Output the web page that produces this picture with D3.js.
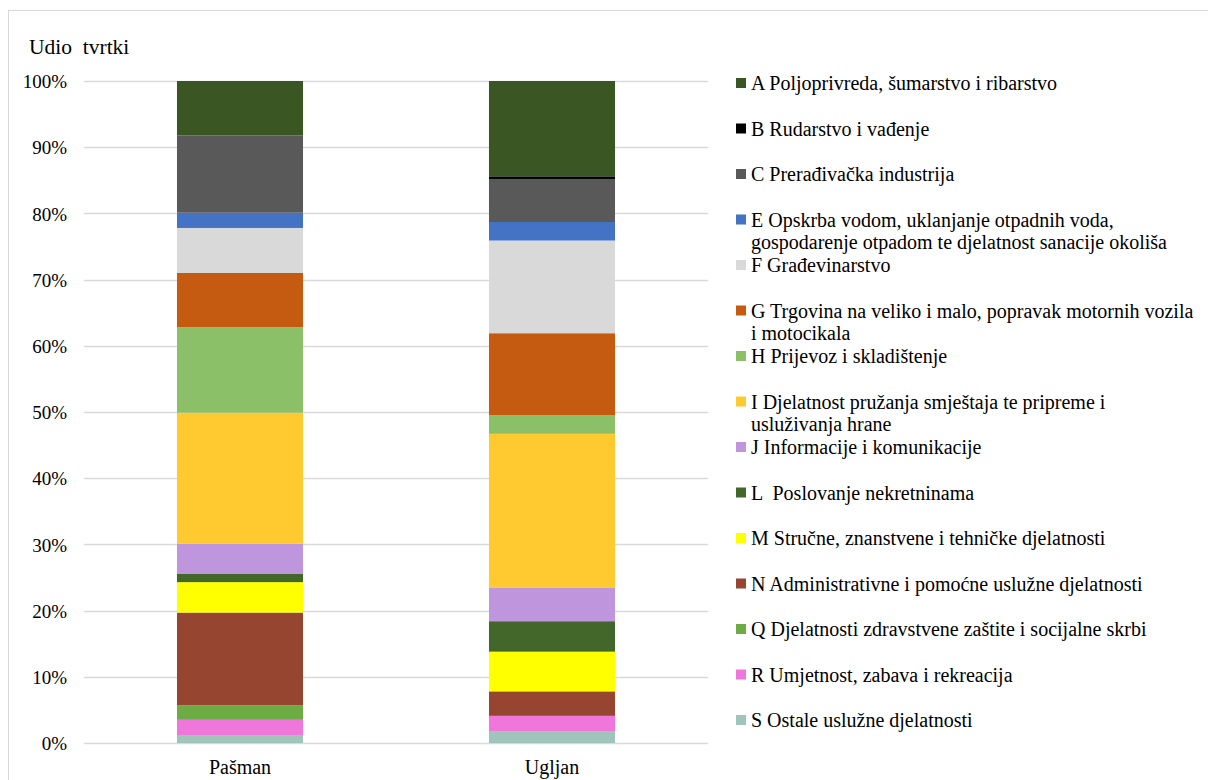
<!DOCTYPE html>
<html>
<head>
<meta charset="utf-8">
<script src="https://cdn.jsdelivr.net/npm/d3@7"></script>
<style>
  html, body { margin: 0; padding: 0; background: #fff; }
  svg { display: block; }
  svg text { font-family: "Liberation Serif", "Times New Roman", Tinos, "DejaVu Serif", serif; }
</style>
</head>
<body>
<svg id="chart" width="1208" height="780"></svg>
<script>
// ---- data ----
const categories = ["Pašman", "Ugljan"];
const sectorCodes = ["A", "B", "C", "E", "F", "G", "H", "I", "J", "L", "M", "N", "Q", "R", "S"];
const sectorLabels = [
  "A Poljoprivreda, šumarstvo i ribarstvo",
  "B Rudarstvo i vađenje",
  "C Prerađivačka industrija",
  "E Opskrba vodom, uklanjanje otpadnih voda,\ngospodarenje otpadom te djelatnost sanacije okoliša",
  "F Građevinarstvo",
  "G Trgovina na veliko i malo, popravak motornih vozila\ni motocikala",
  "H Prijevoz i skladištenje",
  "I Djelatnost pružanja smještaja te pripreme i\nusluživanja hrane",
  "J Informacije i komunikacije",
  "L  Poslovanje nekretninama",
  "M Stručne, znanstvene i tehničke djelatnosti",
  "N Administrativne i pomoćne uslužne djelatnosti",
  "Q Djelatnosti zdravstvene zaštite i socijalne skrbi",
  "R Umjetnost, zabava i rekreacija",
  "S Ostale uslužne djelatnosti"
];
// shares (%) per sector, in sectorCodes order
const pasmanValues = [8.2, 0, 11.7, 2.3, 6.8, 8.2, 12.9, 19.8, 4.5, 1.3, 4.6, 14.0, 2.2, 2.4, 1.1];
const ugljanValues = [14.4, 0.4, 6.5, 2.8, 14.0, 12.4, 2.8, 23.2, 5.1, 4.6, 6.0, 3.7, 0, 2.3, 1.8];
const yTickValues = [0, 10, 20, 30, 40, 50, 60, 70, 80, 90, 100];
const yAxisTitle = "Udio  tvrtki";

// ---- styles ----
const sectorColors = ["#3A5723", "#000000", "#595959", "#4472C4", "#D9D9D9", "#C55A11", "#8CC068",
                      "#FFCA30", "#BF95DE", "#43672B", "#FFFF00", "#964530", "#6DAB45", "#EF76DA", "#A0C3BA"];

const svg = d3.select("#chart");
const plotLeft = 84, plotRight = 708, plotTop = 81, plotBottom = 743;

// outer chart border
svg.append("rect").attr("x", 8.5).attr("y", 10.5).attr("width", 1220).attr("height", 800)
  .attr("fill", "none").attr("stroke", "#D9D9D9").attr("stroke-width", 1);

const rows = categories.map((c, i) => {
  const vals = i === 0 ? pasmanValues : ugljanValues;
  const o = { cat: c };
  sectorCodes.forEach((k, j) => o[k] = vals[j]);
  return o;
});

const x = d3.scaleBand().domain(categories).range([plotLeft, plotRight]).paddingInner(0.596).paddingOuter(0.298);
const y = d3.scaleLinear().domain([0, 100]).range([plotBottom, plotTop]);
const color = d3.scaleOrdinal().domain(sectorCodes).range(sectorColors);

// gridlines
svg.append("g").selectAll("line").data(yTickValues).join("line")
  .attr("x1", plotLeft).attr("x2", plotRight)
  .attr("y1", d => Math.round(y(d)) + 0.5).attr("y2", d => Math.round(y(d)) + 0.5)
  .attr("stroke", "#D9D9D9").attr("stroke-width", 1.3);

// stacks: S at bottom, A on top
const stackKeys = sectorCodes.slice().reverse();
const series = d3.stack().keys(stackKeys)(rows);

svg.append("g").selectAll("g").data(series).join("g")
  .attr("fill", d => color(d.key))
  .selectAll("rect").data(d => d).join("rect")
  .attr("x", d => x(d.data.cat))
  .attr("width", x.bandwidth())
  .attr("y", d => y(d[1]))
  .attr("height", d => Math.max(0, y(d[0]) - y(d[1])));

// y axis labels
const yAxis = d3.axisLeft(y).tickValues(yTickValues).tickFormat(d => d + "%").tickSize(0).tickPadding(0);
const yg = svg.append("g").attr("transform", `translate(67,0)`).call(yAxis);
yg.select(".domain").remove();
yg.attr("font-family", null);
yg.selectAll("text").attr("font-size", 19).attr("fill", "#000").attr("dy", "0.35em");

// x axis labels
const xAxis = d3.axisBottom(x).tickSize(0).tickPadding(0);
const xg = svg.append("g").attr("transform", `translate(0,${plotBottom + 17})`).call(xAxis);
xg.select(".domain").remove();
xg.attr("font-family", null);
xg.selectAll("text").attr("font-size", 20).attr("fill", "#000").attr("dy", "0.71em");

// y axis title
svg.append("text").attr("x", 29).attr("y", 54).attr("font-size", 21.5).attr("fill", "#000")
  .style("white-space", "pre").text(yAxisTitle);

// legend
const legTop = 83, legStep = 45.5, lineH = 22.5;
const leg = svg.append("g").selectAll("g").data(sectorCodes).join("g")
  .attr("transform", (d, i) => `translate(736,${legTop + i * legStep})`);
leg.append("rect").attr("x", 0).attr("y", -5).attr("width", 10).attr("height", 10)
  .attr("fill", d => color(d));
leg.append("text").attr("x", 15).attr("y", 0).attr("font-size", 20).attr("fill", "#000")
  .style("white-space", "pre")
  .each(function (d, i) {
    const lines = sectorLabels[i].split("\n");
    d3.select(this).selectAll("tspan").data(lines).join("tspan")
      .attr("x", 15).attr("y", (l, k) => k * lineH).attr("dy", "0.35em").text(l => l);
  });
</script>
</body>
</html>
